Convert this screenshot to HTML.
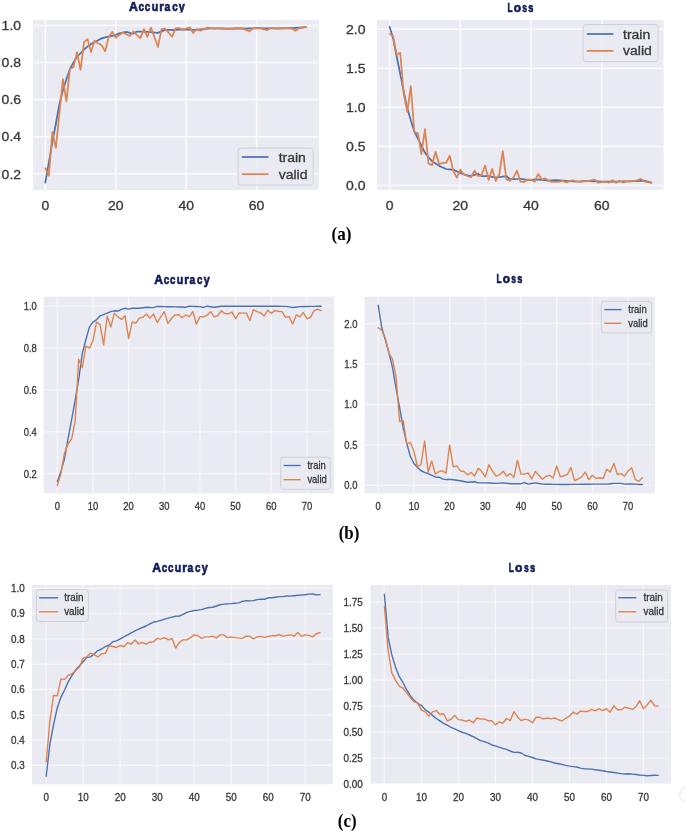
<!DOCTYPE html>
<html><head><meta charset="utf-8"><style>
html,body{margin:0;padding:0;background:#fff;}
body{width:685px;height:831px;overflow:hidden;}
svg{display:block;font-family:"Liberation Sans", sans-serif;will-change:transform;}
.t{stroke:#383838;stroke-width:0.3px;}
</style></head><body>
<svg width="685" height="831" viewBox="0 0 685 831">
<rect width="685" height="831" fill="#fff"/>
<clipPath id="cA"><rect x="33" y="20" width="286" height="170"/></clipPath>
<rect x="33" y="20" width="286.00" height="170.00" fill="#eaeaf2"/>
<path clip-path="url(#cA)" d="M33 173.80H319 M33 136.70H319 M33 99.60H319 M33 62.50H319 M33 25.40H319 M45.30 20V190 M115.74 20V190 M186.18 20V190 M256.62 20V190" stroke="#fafafc" stroke-width="1.55" fill="none"/>
<polyline clip-path="url(#cA)" points="45.30,182.70 48.82,162.67 52.34,142.26 55.87,123.72 59.39,104.24 62.91,90.33 66.43,79.20 69.95,68.99 73.48,62.50 77.00,56.94 80.52,53.23 84.04,49.52 87.56,46.55 91.09,43.95 94.61,42.09 98.13,40.24 101.65,38.38 105.17,37.46 108.70,36.53 112.22,35.79 115.74,35.05 119.26,33.38 122.78,32.63 126.31,31.89 129.83,32.82 133.35,33.75 136.87,31.52 140.39,31.65 143.92,31.77 147.44,31.89 150.96,32.20 154.48,32.51 158.00,32.82 161.53,31.34 165.05,29.85 168.57,29.94 172.09,30.04 175.61,29.85 179.14,29.67 182.66,29.48 186.18,29.57 189.70,29.67 193.22,29.76 196.75,29.85 200.27,29.48 203.79,29.11 207.31,28.74 210.83,28.37 214.36,28.43 217.88,28.49 221.40,28.55 224.92,28.59 228.44,28.63 231.97,28.66 235.49,28.70 239.01,28.74 242.53,28.63 246.05,28.52 249.58,28.41 253.10,28.29 256.62,28.18 260.14,28.22 263.66,28.26 267.19,28.29 270.71,28.33 274.23,28.37 277.75,28.33 281.27,28.29 284.80,28.26 288.32,28.22 291.84,28.18 295.36,27.95 298.88,27.72 302.41,27.49 305.93,27.25" fill="none" stroke="#4c72b0" stroke-width="1.75" stroke-linejoin="round" stroke-linecap="round"/>
<polyline clip-path="url(#cA)" points="45.30,168.24 48.82,175.66 52.34,132.06 55.87,147.83 59.39,113.51 62.91,79.20 66.43,101.46 69.95,68.81 73.48,67.14 77.00,52.11 80.52,69.92 84.04,42.09 87.56,39.13 91.09,52.11 94.61,40.61 98.13,43.21 101.65,45.25 105.17,51.37 108.70,37.09 112.22,31.89 115.74,37.83 119.26,35.14 122.78,32.45 126.31,34.21 129.83,35.97 133.35,31.52 136.87,34.86 140.39,38.20 143.92,29.11 147.44,36.72 150.96,27.63 154.48,37.27 158.00,46.92 161.53,29.11 165.05,28.55 168.57,32.63 172.09,36.72 175.61,28.37 179.14,28.00 182.66,30.04 186.18,28.65 189.70,27.25 193.22,33.01 196.75,29.11 200.27,30.59 203.79,29.11 207.31,27.63 210.83,28.18 214.36,28.74 217.88,28.37 221.40,28.00 224.92,28.55 228.44,29.11 231.97,28.55 235.49,28.00 239.01,28.18 242.53,28.37 246.05,29.85 249.58,31.34 253.10,28.18 256.62,28.28 260.14,28.37 263.66,29.20 267.19,30.04 270.71,28.00 274.23,28.28 277.75,28.55 281.27,28.28 284.80,28.00 288.32,28.28 291.84,28.55 295.36,30.78 298.88,28.18 302.41,27.53 305.93,26.88" fill="none" stroke="#dd8452" stroke-width="1.75" stroke-linejoin="round" stroke-linecap="round"/>
<rect x="238.1" y="148.1" width="75.10" height="36.90" rx="3" fill="#eaeaf2" fill-opacity="0.8" stroke="#cdcdd2" stroke-width="0.9"/>
<line x1="241.8" y1="157" x2="268.5" y2="157" stroke="#4c72b0" stroke-width="1.75"/>
<line x1="241.8" y1="174.2" x2="268.5" y2="174.2" stroke="#dd8452" stroke-width="1.75"/>
<text x="278.7" y="161.7" font-size="12.5" textLength="27.23" lengthAdjust="spacingAndGlyphs" class="t" fill="#383838">train</text>
<text x="278.7" y="178.5" font-size="12.5" textLength="28.79" lengthAdjust="spacingAndGlyphs" class="t" fill="#383838">valid</text>
<text x="21.1" y="178.53" font-size="12.5" text-anchor="end" textLength="19.46" lengthAdjust="spacingAndGlyphs" class="t" fill="#383838">0.2</text>
<text x="21.1" y="141.43" font-size="12.5" text-anchor="end" textLength="19.46" lengthAdjust="spacingAndGlyphs" class="t" fill="#383838">0.4</text>
<text x="21.1" y="104.33" font-size="12.5" text-anchor="end" textLength="19.46" lengthAdjust="spacingAndGlyphs" class="t" fill="#383838">0.6</text>
<text x="21.1" y="67.22" font-size="12.5" text-anchor="end" textLength="19.46" lengthAdjust="spacingAndGlyphs" class="t" fill="#383838">0.8</text>
<text x="21.1" y="30.13" font-size="12.5" text-anchor="end" textLength="19.46" lengthAdjust="spacingAndGlyphs" class="t" fill="#383838">1.0</text>
<text x="45.30" y="210" font-size="12.5" text-anchor="middle" textLength="7.79" lengthAdjust="spacingAndGlyphs" class="t" fill="#383838">0</text>
<text x="115.74" y="210" font-size="12.5" text-anchor="middle" textLength="15.57" lengthAdjust="spacingAndGlyphs" class="t" fill="#383838">20</text>
<text x="186.18" y="210" font-size="12.5" text-anchor="middle" textLength="15.57" lengthAdjust="spacingAndGlyphs" class="t" fill="#383838">40</text>
<text x="256.62" y="210" font-size="12.5" text-anchor="middle" textLength="15.57" lengthAdjust="spacingAndGlyphs" class="t" fill="#383838">60</text>
<clipPath id="cAt"><rect x="0" y="0" width="685" height="12.6"/></clipPath>
<g clip-path="url(#cAt)" stroke="#111b5b" stroke-width="0.7" font-size="13.6" font-weight="bold" fill="#111b5b"><text transform="translate(129.06 10.8) scale(0.903 1)">A</text><text transform="translate(138.56 10.8) scale(0.731 1)">c</text><text transform="translate(144.87 10.8) scale(0.723 1)">c</text><text transform="translate(151.79 10.8) scale(0.784 1)">u</text><text transform="translate(159.17 10.8) scale(0.878 1)">r</text><text transform="translate(164.55 10.8) scale(0.757 1)">a</text><text transform="translate(172.17 10.8) scale(0.723 1)">c</text><text transform="translate(178.87 10.8) scale(0.797 1)">y</text></g>
<clipPath id="cB"><rect x="377" y="20" width="286.5" height="169.8"/></clipPath>
<rect x="377" y="20" width="286.50" height="169.80" fill="#eaeaf2"/>
<path clip-path="url(#cB)" d="M377 185.40H663.5 M377 146.35H663.5 M377 107.30H663.5 M377 68.25H663.5 M377 29.20H663.5 M389.60 20V189.8 M460.34 20V189.8 M531.08 20V189.8 M601.82 20V189.8" stroke="#fafafc" stroke-width="1.55" fill="none"/>
<polyline clip-path="url(#cB)" points="389.60,26.86 393.14,38.57 396.67,56.54 400.21,73.72 403.75,91.68 407.29,108.08 410.82,120.58 414.36,131.51 417.90,138.54 421.43,145.57 424.97,152.60 428.51,157.28 432.04,161.19 435.58,163.53 439.12,165.88 442.66,167.44 446.19,169.00 449.73,169.39 453.27,169.78 456.80,171.34 460.34,172.90 463.88,174.47 467.41,175.25 470.95,176.03 474.49,174.86 478.03,173.69 481.56,176.03 485.10,176.03 488.64,176.03 492.17,176.81 495.71,177.59 499.25,177.07 502.78,176.55 506.32,176.03 509.86,179.15 513.39,179.07 516.93,179.00 520.47,178.92 524.01,179.43 527.54,179.93 531.08,179.80 534.62,179.67 538.15,179.54 541.69,179.87 545.23,180.19 548.76,180.52 552.30,180.26 555.84,180.01 559.38,180.30 562.91,180.58 566.45,180.87 569.99,181.08 573.52,181.29 577.06,181.50 580.60,181.36 584.13,181.23 587.67,181.10 591.21,181.20 594.75,181.30 598.28,181.40 601.82,181.50 605.36,181.50 608.89,181.50 612.43,181.50 615.97,181.50 619.50,181.50 623.04,181.42 626.58,181.34 630.12,181.26 633.65,181.18 637.19,181.10 640.73,180.91 644.26,180.71 647.80,181.69 651.34,182.67" fill="none" stroke="#4c72b0" stroke-width="1.75" stroke-linejoin="round" stroke-linecap="round"/>
<polyline clip-path="url(#cB)" points="389.60,33.89 393.14,36.23 396.67,54.97 400.21,52.63 403.75,94.02 407.29,111.99 410.82,86.21 414.36,132.29 417.90,133.07 421.43,154.16 424.97,129.17 428.51,163.53 432.04,165.09 435.58,151.82 439.12,164.31 442.66,162.75 446.19,162.75 449.73,155.72 453.27,170.56 456.80,177.59 460.34,169.78 463.88,174.47 467.41,176.03 470.95,177.28 474.49,170.56 478.03,176.03 481.56,175.25 485.10,165.41 488.64,179.93 492.17,169.00 495.71,180.87 499.25,174.47 502.78,151.04 506.32,178.92 509.86,180.87 513.39,177.59 516.93,170.56 520.47,181.65 524.01,182.12 527.54,179.54 531.08,179.54 534.62,181.81 538.15,174.00 541.69,179.54 545.23,178.37 548.76,180.87 552.30,181.96 555.84,181.96 559.38,181.65 562.91,180.87 566.45,182.47 569.99,180.87 573.52,180.48 577.06,181.50 580.60,181.89 584.13,181.34 587.67,181.03 591.21,180.28 594.75,179.54 598.28,182.74 601.82,182.24 605.36,181.73 608.89,182.74 612.43,180.32 615.97,182.74 619.50,180.71 623.04,182.51 626.58,181.34 630.12,181.18 633.65,181.03 637.19,180.32 640.73,178.84 644.26,181.34 647.80,182.20 651.34,182.74" fill="none" stroke="#dd8452" stroke-width="1.75" stroke-linejoin="round" stroke-linecap="round"/>
<rect x="583.1" y="24.5" width="74.90" height="37.10" rx="3" fill="#eaeaf2" fill-opacity="0.8" stroke="#cdcdd2" stroke-width="0.9"/>
<line x1="586.8" y1="34" x2="613.4" y2="34" stroke="#4c72b0" stroke-width="1.75"/>
<line x1="586.8" y1="50.9" x2="613.4" y2="50.9" stroke="#dd8452" stroke-width="1.75"/>
<text x="623" y="38.7" font-size="12.5" textLength="27.23" lengthAdjust="spacingAndGlyphs" class="t" fill="#383838">train</text>
<text x="623" y="55.1" font-size="12.5" textLength="28.79" lengthAdjust="spacingAndGlyphs" class="t" fill="#383838">valid</text>
<text x="365.5" y="190.13" font-size="12.5" text-anchor="end" textLength="19.46" lengthAdjust="spacingAndGlyphs" class="t" fill="#383838">0.0</text>
<text x="365.5" y="151.08" font-size="12.5" text-anchor="end" textLength="19.46" lengthAdjust="spacingAndGlyphs" class="t" fill="#383838">0.5</text>
<text x="365.5" y="112.03" font-size="12.5" text-anchor="end" textLength="19.46" lengthAdjust="spacingAndGlyphs" class="t" fill="#383838">1.0</text>
<text x="365.5" y="72.98" font-size="12.5" text-anchor="end" textLength="19.46" lengthAdjust="spacingAndGlyphs" class="t" fill="#383838">1.5</text>
<text x="365.5" y="33.93" font-size="12.5" text-anchor="end" textLength="19.46" lengthAdjust="spacingAndGlyphs" class="t" fill="#383838">2.0</text>
<text x="389.60" y="210" font-size="12.5" text-anchor="middle" textLength="7.79" lengthAdjust="spacingAndGlyphs" class="t" fill="#383838">0</text>
<text x="460.34" y="210" font-size="12.5" text-anchor="middle" textLength="15.57" lengthAdjust="spacingAndGlyphs" class="t" fill="#383838">20</text>
<text x="531.08" y="210" font-size="12.5" text-anchor="middle" textLength="15.57" lengthAdjust="spacingAndGlyphs" class="t" fill="#383838">40</text>
<text x="601.82" y="210" font-size="12.5" text-anchor="middle" textLength="15.57" lengthAdjust="spacingAndGlyphs" class="t" fill="#383838">60</text>
<g stroke="#111b5b" stroke-width="0.7" font-size="13.6" font-weight="bold" fill="#111b5b"><text transform="translate(507.40 11.6) scale(0.608 1)">L</text><text transform="translate(513.65 11.6) scale(0.880 1)">o</text><text transform="translate(522.33 11.6) scale(0.620 1)">s</text><text transform="translate(528.27 11.6) scale(0.682 1)">s</text></g>
<clipPath id="cC"><rect x="43.7" y="296.7" width="290.3" height="196.60000000000002"/></clipPath>
<rect x="43.7" y="296.7" width="290.30" height="196.60" fill="#eaeaf2"/>
<path clip-path="url(#cC)" d="M43.7 473.72H334 M43.7 431.84H334 M43.7 389.96H334 M43.7 348.08H334 M43.7 306.20H334 M57.30 296.7V493.3 M92.96 296.7V493.3 M128.62 296.7V493.3 M164.28 296.7V493.3 M199.94 296.7V493.3 M235.60 296.7V493.3 M271.26 296.7V493.3 M306.92 296.7V493.3" stroke="#f6f6f9" stroke-width="1.3" fill="none"/>
<polyline clip-path="url(#cC)" points="57.30,481.68 60.87,471.63 64.43,459.06 68.00,439.17 71.56,420.11 75.13,400.43 78.70,379.49 82.26,353.32 85.83,339.70 89.39,327.14 92.96,322.11 96.53,319.81 100.09,315.83 103.66,314.58 107.22,313.11 110.79,311.64 114.36,310.81 117.92,311.02 121.49,309.34 125.05,308.29 128.62,309.13 132.19,308.29 135.75,308.29 139.32,308.29 142.88,307.77 146.45,307.25 150.02,307.46 153.58,307.67 157.15,306.41 160.71,306.50 164.28,306.59 167.85,306.68 171.41,306.77 174.98,306.86 178.54,306.95 182.11,307.04 185.68,307.25 189.24,306.20 192.81,306.34 196.37,306.48 199.94,306.62 203.51,307.46 207.07,306.20 210.64,306.72 214.20,307.25 217.77,306.72 221.34,306.20 224.90,306.20 228.47,306.20 232.03,306.20 235.60,306.20 239.17,306.20 242.73,306.20 246.30,306.20 249.86,306.20 253.43,306.20 257.00,306.20 260.56,306.20 264.13,306.20 267.69,306.20 271.26,306.20 274.83,306.25 278.39,306.30 281.96,306.36 285.52,306.41 289.09,306.93 292.66,307.46 296.22,307.04 299.79,306.62 303.35,306.55 306.92,306.48 310.49,306.41 314.05,306.34 317.62,306.27 321.18,306.20" fill="none" stroke="#4c72b0" stroke-width="1.4" stroke-linejoin="round" stroke-linecap="round"/>
<polyline clip-path="url(#cC)" points="57.30,485.66 60.87,473.72 64.43,453.41 68.00,443.99 71.56,439.17 75.13,421.37 78.70,359.18 82.26,367.55 85.83,345.99 89.39,348.08 92.96,340.75 96.53,322.11 100.09,324.63 103.66,344.94 107.22,316.25 110.79,327.14 114.36,313.11 117.92,316.88 121.49,319.39 125.05,315.83 128.62,338.45 132.19,321.90 135.75,323.37 139.32,318.14 142.88,317.30 146.45,313.95 150.02,318.14 153.58,313.95 157.15,322.53 160.71,317.09 164.28,311.64 167.85,323.37 171.41,318.55 174.98,314.99 178.54,314.58 182.11,317.72 185.68,314.99 189.24,316.88 192.81,311.64 196.37,324.00 199.94,316.67 203.51,316.88 207.07,315.20 210.64,311.64 214.20,316.88 217.77,315.62 221.34,310.81 224.90,313.32 228.47,313.95 232.03,312.06 235.60,318.76 239.17,312.90 242.73,313.11 246.30,313.11 249.86,320.44 253.43,309.76 257.00,311.64 260.56,312.90 264.13,316.04 267.69,310.18 271.26,313.32 274.83,310.60 278.39,311.23 281.96,311.64 285.52,317.30 289.09,316.67 292.66,324.00 296.22,314.99 299.79,316.88 303.35,312.48 306.92,318.76 310.49,317.30 314.05,310.60 317.62,309.13 321.18,310.60" fill="none" stroke="#dd8452" stroke-width="1.4" stroke-linejoin="round" stroke-linecap="round"/>
<rect x="280.7" y="457.2" width="49.60" height="32.10" rx="3" fill="#eaeaf2" fill-opacity="0.8" stroke="#cdcdd2" stroke-width="0.9"/>
<line x1="283.6" y1="465.5" x2="300.7" y2="465.5" stroke="#4c72b0" stroke-width="1.4"/>
<line x1="283.6" y1="479.7" x2="300.7" y2="479.7" stroke="#dd8452" stroke-width="1.4"/>
<text x="307.4" y="468.9" font-size="10.5" textLength="18.38" lengthAdjust="spacingAndGlyphs" class="t" fill="#383838">train</text>
<text x="307.4" y="483.1" font-size="10.5" textLength="19.44" lengthAdjust="spacingAndGlyphs" class="t" fill="#383838">valid</text>
<text x="36.8" y="477.54" font-size="10.5" text-anchor="end" textLength="13.14" lengthAdjust="spacingAndGlyphs" class="t" fill="#383838">0.2</text>
<text x="36.8" y="435.66" font-size="10.5" text-anchor="end" textLength="13.14" lengthAdjust="spacingAndGlyphs" class="t" fill="#383838">0.4</text>
<text x="36.8" y="393.78" font-size="10.5" text-anchor="end" textLength="13.14" lengthAdjust="spacingAndGlyphs" class="t" fill="#383838">0.6</text>
<text x="36.8" y="351.90" font-size="10.5" text-anchor="end" textLength="13.14" lengthAdjust="spacingAndGlyphs" class="t" fill="#383838">0.8</text>
<text x="36.8" y="310.02" font-size="10.5" text-anchor="end" textLength="13.14" lengthAdjust="spacingAndGlyphs" class="t" fill="#383838">1.0</text>
<text x="57.30" y="510" font-size="10.5" text-anchor="middle" textLength="5.26" lengthAdjust="spacingAndGlyphs" class="t" fill="#383838">0</text>
<text x="92.96" y="510" font-size="10.5" text-anchor="middle" textLength="10.51" lengthAdjust="spacingAndGlyphs" class="t" fill="#383838">10</text>
<text x="128.62" y="510" font-size="10.5" text-anchor="middle" textLength="10.51" lengthAdjust="spacingAndGlyphs" class="t" fill="#383838">20</text>
<text x="164.28" y="510" font-size="10.5" text-anchor="middle" textLength="10.51" lengthAdjust="spacingAndGlyphs" class="t" fill="#383838">30</text>
<text x="199.94" y="510" font-size="10.5" text-anchor="middle" textLength="10.51" lengthAdjust="spacingAndGlyphs" class="t" fill="#383838">40</text>
<text x="235.60" y="510" font-size="10.5" text-anchor="middle" textLength="10.51" lengthAdjust="spacingAndGlyphs" class="t" fill="#383838">50</text>
<text x="271.26" y="510" font-size="10.5" text-anchor="middle" textLength="10.51" lengthAdjust="spacingAndGlyphs" class="t" fill="#383838">60</text>
<text x="306.92" y="510" font-size="10.5" text-anchor="middle" textLength="10.51" lengthAdjust="spacingAndGlyphs" class="t" fill="#383838">70</text>
<g stroke="#111b5b" stroke-width="0.7" font-size="13.6" font-weight="bold" fill="#111b5b"><text transform="translate(154.26 283.8) scale(0.896 1)">A</text><text transform="translate(163.70 283.8) scale(0.725 1)">c</text><text transform="translate(169.96 283.8) scale(0.717 1)">c</text><text transform="translate(176.83 283.8) scale(0.778 1)">u</text><text transform="translate(184.16 283.8) scale(0.870 1)">r</text><text transform="translate(189.50 283.8) scale(0.751 1)">a</text><text transform="translate(197.06 283.8) scale(0.717 1)">c</text><text transform="translate(203.72 283.8) scale(0.791 1)">y</text></g>
<clipPath id="cD"><rect x="364.7" y="296.7" width="290.2" height="196.60000000000002"/></clipPath>
<rect x="364.7" y="296.7" width="290.20" height="196.60" fill="#eaeaf2"/>
<path clip-path="url(#cD)" d="M364.7 485.30H654.9 M364.7 444.90H654.9 M364.7 404.50H654.9 M364.7 364.10H654.9 M364.7 323.70H654.9 M378.20 296.7V493.3 M413.90 296.7V493.3 M449.60 296.7V493.3 M485.30 296.7V493.3 M521.00 296.7V493.3 M556.70 296.7V493.3 M592.40 296.7V493.3 M628.10 296.7V493.3" stroke="#f6f6f9" stroke-width="1.3" fill="none"/>
<polyline clip-path="url(#cD)" points="378.20,305.12 381.77,327.74 385.34,339.86 388.91,352.79 392.48,367.33 396.05,388.34 399.62,407.73 403.19,427.93 406.76,443.28 410.33,456.21 413.90,463.48 417.47,467.52 421.04,470.76 424.61,472.37 428.18,473.66 431.75,475.28 435.32,476.98 438.89,477.22 442.46,478.84 446.03,479.64 449.60,479.32 453.17,479.81 456.74,480.29 460.31,480.78 463.88,481.50 467.45,482.23 471.02,481.99 474.59,481.74 478.16,482.88 481.73,482.88 485.30,482.88 488.87,483.04 492.44,483.20 496.01,483.36 499.58,483.12 503.15,482.88 506.72,483.28 510.29,483.68 513.86,483.68 517.43,483.68 521.00,483.68 524.57,482.55 528.14,484.17 531.71,483.52 535.28,482.88 538.85,483.52 542.42,484.17 545.99,484.22 549.56,484.28 553.13,484.33 556.70,484.38 560.27,484.44 563.84,484.49 567.41,484.45 570.98,484.41 574.55,484.37 578.12,484.33 581.69,484.29 585.26,484.25 588.83,484.21 592.40,484.17 595.97,484.17 599.54,484.17 603.11,484.17 606.68,484.17 610.25,483.76 613.82,483.36 617.39,483.36 620.96,483.36 624.53,484.17 628.10,484.01 631.67,483.85 635.24,484.17 638.81,484.49 642.38,484.49" fill="none" stroke="#4c72b0" stroke-width="1.4" stroke-linejoin="round" stroke-linecap="round"/>
<polyline clip-path="url(#cD)" points="378.20,327.74 381.77,330.16 385.34,338.24 388.91,352.79 392.48,359.25 396.05,377.03 399.62,421.47 403.19,420.66 406.76,444.09 410.33,442.48 413.90,451.36 417.47,466.72 421.04,464.29 424.61,440.86 428.18,472.37 431.75,461.06 435.32,473.99 438.89,471.56 442.46,470.76 446.03,473.18 449.60,444.90 453.17,466.72 456.74,465.91 460.31,470.92 463.88,471.56 467.45,474.80 471.02,472.53 474.59,476.09 478.16,468.33 481.73,471.56 485.30,476.90 488.87,464.78 492.44,470.92 496.01,476.09 499.58,474.80 503.15,471.24 506.72,476.09 510.29,473.66 513.86,477.38 517.43,460.41 521.00,474.15 524.57,474.15 528.14,472.86 531.71,479.00 535.28,471.56 538.85,475.28 542.42,479.32 545.99,476.41 549.56,475.28 553.13,478.03 556.70,466.07 560.27,476.90 563.84,475.77 567.41,474.47 570.98,467.36 574.55,480.61 578.12,479.00 581.69,476.90 585.26,472.05 588.83,479.64 592.40,475.28 595.97,478.51 599.54,477.70 603.11,478.51 606.68,469.30 610.25,472.05 613.82,463.48 617.39,474.47 620.96,473.66 624.53,476.09 628.10,470.92 631.67,467.69 635.24,479.32 638.81,481.26 642.38,477.70" fill="none" stroke="#dd8452" stroke-width="1.4" stroke-linejoin="round" stroke-linecap="round"/>
<rect x="601.4" y="301.3" width="50.10" height="31.70" rx="3" fill="#eaeaf2" fill-opacity="0.8" stroke="#cdcdd2" stroke-width="0.9"/>
<line x1="604.3" y1="309.6" x2="621.5" y2="309.6" stroke="#4c72b0" stroke-width="1.4"/>
<line x1="604.3" y1="323.3" x2="621.5" y2="323.3" stroke="#dd8452" stroke-width="1.4"/>
<text x="628.3" y="312.9" font-size="10.5" textLength="18.38" lengthAdjust="spacingAndGlyphs" class="t" fill="#383838">train</text>
<text x="628.3" y="326.6" font-size="10.5" textLength="19.44" lengthAdjust="spacingAndGlyphs" class="t" fill="#383838">valid</text>
<text x="357.4" y="489.12" font-size="10.5" text-anchor="end" textLength="13.14" lengthAdjust="spacingAndGlyphs" class="t" fill="#383838">0.0</text>
<text x="357.4" y="448.72" font-size="10.5" text-anchor="end" textLength="13.14" lengthAdjust="spacingAndGlyphs" class="t" fill="#383838">0.5</text>
<text x="357.4" y="408.32" font-size="10.5" text-anchor="end" textLength="13.14" lengthAdjust="spacingAndGlyphs" class="t" fill="#383838">1.0</text>
<text x="357.4" y="367.92" font-size="10.5" text-anchor="end" textLength="13.14" lengthAdjust="spacingAndGlyphs" class="t" fill="#383838">1.5</text>
<text x="357.4" y="327.52" font-size="10.5" text-anchor="end" textLength="13.14" lengthAdjust="spacingAndGlyphs" class="t" fill="#383838">2.0</text>
<text x="378.20" y="510" font-size="10.5" text-anchor="middle" textLength="5.26" lengthAdjust="spacingAndGlyphs" class="t" fill="#383838">0</text>
<text x="413.90" y="510" font-size="10.5" text-anchor="middle" textLength="10.51" lengthAdjust="spacingAndGlyphs" class="t" fill="#383838">10</text>
<text x="449.60" y="510" font-size="10.5" text-anchor="middle" textLength="10.51" lengthAdjust="spacingAndGlyphs" class="t" fill="#383838">20</text>
<text x="485.30" y="510" font-size="10.5" text-anchor="middle" textLength="10.51" lengthAdjust="spacingAndGlyphs" class="t" fill="#383838">30</text>
<text x="521.00" y="510" font-size="10.5" text-anchor="middle" textLength="10.51" lengthAdjust="spacingAndGlyphs" class="t" fill="#383838">40</text>
<text x="556.70" y="510" font-size="10.5" text-anchor="middle" textLength="10.51" lengthAdjust="spacingAndGlyphs" class="t" fill="#383838">50</text>
<text x="592.40" y="510" font-size="10.5" text-anchor="middle" textLength="10.51" lengthAdjust="spacingAndGlyphs" class="t" fill="#383838">60</text>
<text x="628.10" y="510" font-size="10.5" text-anchor="middle" textLength="10.51" lengthAdjust="spacingAndGlyphs" class="t" fill="#383838">70</text>
<g stroke="#111b5b" stroke-width="0.7" font-size="13.6" font-weight="bold" fill="#111b5b"><text transform="translate(496.51 283.1) scale(0.605 1)">L</text><text transform="translate(502.73 283.1) scale(0.877 1)">o</text><text transform="translate(511.37 283.1) scale(0.617 1)">s</text><text transform="translate(517.29 283.1) scale(0.679 1)">s</text></g>
<clipPath id="cE"><rect x="31.9" y="585" width="301.1" height="199.29999999999995"/></clipPath>
<rect x="31.9" y="585" width="301.10" height="199.30" fill="#eaeaf2"/>
<path clip-path="url(#cE)" d="M31.9 765.40H333 M31.9 740.10H333 M31.9 714.80H333 M31.9 689.50H333 M31.9 664.20H333 M31.9 638.90H333 M31.9 613.60H333 M31.9 588.30H333 M46.20 585V784.3 M83.20 585V784.3 M120.20 585V784.3 M157.20 585V784.3 M194.20 585V784.3 M231.20 585V784.3 M268.20 585V784.3 M305.20 585V784.3" stroke="#f6f6f9" stroke-width="1.3" fill="none"/>
<polyline clip-path="url(#cE)" points="46.20,776.28 49.90,743.89 53.60,724.67 57.30,707.72 61.00,697.09 64.70,689.75 68.40,681.40 72.10,675.33 75.80,669.77 79.50,665.72 83.20,661.67 86.90,657.37 90.60,656.86 94.30,653.83 98.00,650.54 101.70,649.02 105.40,646.49 109.10,645.22 112.80,641.68 116.50,640.92 120.20,638.90 123.90,636.88 127.60,634.85 131.30,632.83 135.00,630.93 138.70,629.03 142.40,627.51 146.10,626.00 149.80,623.97 153.50,622.03 157.20,621.44 160.90,620.32 164.60,619.19 168.30,618.10 172.00,617.09 175.70,616.29 179.40,616.00 183.10,614.36 186.80,612.31 190.50,611.40 194.20,610.49 197.90,610.18 201.60,609.68 205.30,608.41 209.00,607.47 212.70,607.27 216.40,606.01 220.10,604.74 223.80,604.11 227.50,603.90 231.20,603.65 234.90,603.25 238.60,602.85 242.30,601.43 246.00,600.58 249.70,600.90 253.40,600.60 257.10,599.67 260.80,599.09 264.50,599.25 268.20,597.79 271.90,597.79 275.60,597.21 279.30,596.66 283.00,596.63 286.70,595.94 290.40,596.10 294.10,595.68 297.80,595.26 301.50,595.05 305.20,594.74 308.90,594.08 312.60,593.96 316.30,594.84 320.00,594.62" fill="none" stroke="#4c72b0" stroke-width="1.4" stroke-linejoin="round" stroke-linecap="round"/>
<polyline clip-path="url(#cE)" points="46.20,761.86 49.90,720.87 53.60,695.32 57.30,695.82 61.00,678.87 64.70,679.38 68.40,675.33 72.10,673.56 75.80,670.52 79.50,666.98 83.20,657.88 86.90,656.86 90.60,653.07 94.30,654.84 98.00,656.86 101.70,653.83 105.40,653.32 109.10,645.73 112.80,646.49 116.50,647.50 120.20,645.48 123.90,646.74 127.60,642.69 131.30,644.21 135.00,639.91 138.70,643.96 142.40,642.44 146.10,644.21 149.80,642.06 153.50,641.68 157.20,638.39 160.90,639.15 164.60,637.63 168.30,639.91 172.00,638.39 175.70,648.01 179.40,642.44 183.10,639.91 186.80,639.91 190.50,637.63 194.20,634.85 197.90,635.74 201.60,638.39 205.30,636.88 209.00,636.88 212.70,636.12 216.40,637.89 220.10,634.85 223.80,634.85 227.50,637.63 231.20,636.88 234.90,637.63 238.60,638.14 242.30,638.39 246.00,636.12 249.70,636.37 253.40,638.90 257.10,637.00 260.80,636.37 264.50,637.38 268.20,636.37 271.90,635.74 275.60,635.74 279.30,634.47 283.00,636.37 286.70,635.36 290.40,634.85 294.10,636.12 297.80,632.57 301.50,636.37 305.20,634.85 308.90,635.36 312.60,636.88 316.30,633.71 320.00,632.57" fill="none" stroke="#dd8452" stroke-width="1.4" stroke-linejoin="round" stroke-linecap="round"/>
<rect x="36.4" y="589.6" width="52.00" height="31.90" rx="3" fill="#eaeaf2" fill-opacity="0.8" stroke="#cdcdd2" stroke-width="0.9"/>
<line x1="39.1" y1="597.8" x2="58" y2="597.8" stroke="#4c72b0" stroke-width="1.4"/>
<line x1="39.1" y1="611.8" x2="58" y2="611.8" stroke="#dd8452" stroke-width="1.4"/>
<text x="64.2" y="601.2" font-size="10.5" textLength="19.20" lengthAdjust="spacingAndGlyphs" class="t" fill="#383838">train</text>
<text x="64.2" y="615.4" font-size="10.5" textLength="20.30" lengthAdjust="spacingAndGlyphs" class="t" fill="#383838">valid</text>
<text x="24.8" y="769.22" font-size="10.5" text-anchor="end" textLength="13.72" lengthAdjust="spacingAndGlyphs" class="t" fill="#383838">0.3</text>
<text x="24.8" y="743.92" font-size="10.5" text-anchor="end" textLength="13.72" lengthAdjust="spacingAndGlyphs" class="t" fill="#383838">0.4</text>
<text x="24.8" y="718.62" font-size="10.5" text-anchor="end" textLength="13.72" lengthAdjust="spacingAndGlyphs" class="t" fill="#383838">0.5</text>
<text x="24.8" y="693.32" font-size="10.5" text-anchor="end" textLength="13.72" lengthAdjust="spacingAndGlyphs" class="t" fill="#383838">0.6</text>
<text x="24.8" y="668.02" font-size="10.5" text-anchor="end" textLength="13.72" lengthAdjust="spacingAndGlyphs" class="t" fill="#383838">0.7</text>
<text x="24.8" y="642.72" font-size="10.5" text-anchor="end" textLength="13.72" lengthAdjust="spacingAndGlyphs" class="t" fill="#383838">0.8</text>
<text x="24.8" y="617.42" font-size="10.5" text-anchor="end" textLength="13.72" lengthAdjust="spacingAndGlyphs" class="t" fill="#383838">0.9</text>
<text x="24.8" y="592.12" font-size="10.5" text-anchor="end" textLength="13.72" lengthAdjust="spacingAndGlyphs" class="t" fill="#383838">1.0</text>
<text x="46.20" y="801.2" font-size="10.5" text-anchor="middle" textLength="5.49" lengthAdjust="spacingAndGlyphs" class="t" fill="#383838">0</text>
<text x="83.20" y="801.2" font-size="10.5" text-anchor="middle" textLength="10.98" lengthAdjust="spacingAndGlyphs" class="t" fill="#383838">10</text>
<text x="120.20" y="801.2" font-size="10.5" text-anchor="middle" textLength="10.98" lengthAdjust="spacingAndGlyphs" class="t" fill="#383838">20</text>
<text x="157.20" y="801.2" font-size="10.5" text-anchor="middle" textLength="10.98" lengthAdjust="spacingAndGlyphs" class="t" fill="#383838">30</text>
<text x="194.20" y="801.2" font-size="10.5" text-anchor="middle" textLength="10.98" lengthAdjust="spacingAndGlyphs" class="t" fill="#383838">40</text>
<text x="231.20" y="801.2" font-size="10.5" text-anchor="middle" textLength="10.98" lengthAdjust="spacingAndGlyphs" class="t" fill="#383838">50</text>
<text x="268.20" y="801.2" font-size="10.5" text-anchor="middle" textLength="10.98" lengthAdjust="spacingAndGlyphs" class="t" fill="#383838">60</text>
<text x="305.20" y="801.2" font-size="10.5" text-anchor="middle" textLength="10.98" lengthAdjust="spacingAndGlyphs" class="t" fill="#383838">70</text>
<g stroke="#111b5b" stroke-width="0.7" font-size="13.6" font-weight="bold" fill="#111b5b"><text transform="translate(152.16 571.8) scale(0.899 1)">A</text><text transform="translate(161.63 571.8) scale(0.728 1)">c</text><text transform="translate(167.91 571.8) scale(0.720 1)">c</text><text transform="translate(174.81 571.8) scale(0.781 1)">u</text><text transform="translate(182.17 571.8) scale(0.874 1)">r</text><text transform="translate(187.53 571.8) scale(0.754 1)">a</text><text transform="translate(195.11 571.8) scale(0.720 1)">c</text><text transform="translate(201.80 571.8) scale(0.794 1)">y</text></g>
<clipPath id="cF"><rect x="370.5" y="585" width="300.5" height="198.5"/></clipPath>
<rect x="370.5" y="585" width="300.50" height="198.50" fill="#eaeaf2"/>
<path clip-path="url(#cF)" d="M370.5 784.20H671 M370.5 758.18H671 M370.5 732.15H671 M370.5 706.12H671 M370.5 680.10H671 M370.5 654.08H671 M370.5 628.05H671 M370.5 602.03H671 M384.40 585V783.5 M421.40 585V783.5 M458.40 585V783.5 M495.40 585V783.5 M532.40 585V783.5 M569.40 585V783.5 M606.40 585V783.5 M643.40 585V783.5" stroke="#f6f6f9" stroke-width="1.3" fill="none"/>
<polyline clip-path="url(#cF)" points="384.40,594.32 388.10,636.90 391.80,654.91 395.50,666.88 399.20,676.46 402.90,682.49 406.60,689.68 410.30,695.72 414.00,700.09 417.70,703.42 421.40,705.29 425.10,709.66 428.80,712.06 432.50,715.39 436.20,718.51 439.90,720.91 443.60,723.30 447.30,725.07 451.00,727.47 454.70,728.92 458.40,730.59 462.10,732.25 465.80,733.40 469.50,735.01 473.20,736.63 476.90,738.66 480.60,740.69 484.30,741.67 488.00,742.95 491.70,744.95 495.40,745.84 499.10,747.07 502.80,748.39 506.50,749.43 510.20,751.01 513.90,752.42 517.60,752.25 521.30,753.02 525.00,755.54 528.70,756.41 532.40,757.50 536.10,758.87 539.80,759.61 543.50,760.31 547.20,760.97 550.90,761.88 554.60,763.04 558.30,763.72 562.00,764.40 565.70,765.36 569.40,766.12 573.10,766.62 576.80,767.02 580.50,768.06 584.20,768.90 587.90,768.90 591.60,769.09 595.30,769.74 599.00,770.22 602.70,770.76 606.40,771.53 610.10,772.04 613.80,772.55 617.50,773.11 621.20,773.63 624.90,774.06 628.60,773.69 632.30,774.11 636.00,774.56 639.70,775.05 643.40,775.42 647.10,775.71 650.80,775.55 654.50,775.27 658.20,775.35" fill="none" stroke="#4c72b0" stroke-width="1.4" stroke-linejoin="round" stroke-linecap="round"/>
<polyline clip-path="url(#cF)" points="384.40,606.40 388.10,650.12 391.80,672.92 395.50,680.10 399.20,686.14 402.90,688.01 406.60,692.80 410.30,697.69 414.00,701.75 417.70,702.90 421.40,710.18 425.10,711.85 428.80,716.12 432.50,711.85 436.20,710.60 439.90,714.45 443.60,713.72 447.30,720.91 451.00,719.24 454.70,715.39 458.40,719.66 462.10,720.07 465.80,721.22 469.50,720.07 473.20,722.78 476.90,717.99 480.60,719.14 484.30,718.83 488.00,720.70 491.70,720.70 495.40,724.86 499.10,721.95 502.80,723.30 506.50,718.51 510.20,720.70 513.90,711.64 517.60,716.95 521.30,720.70 525.00,719.14 528.70,720.07 532.40,722.78 536.10,717.26 539.80,717.26 543.50,719.14 547.20,717.99 550.90,718.83 554.60,717.99 558.30,719.66 562.00,721.01 565.70,718.30 569.40,716.22 573.10,712.16 576.80,714.14 580.50,711.12 584.20,711.43 587.90,711.43 591.60,709.35 595.30,710.91 599.00,708.73 602.70,710.60 606.40,708.73 610.10,712.16 613.80,705.81 617.50,709.77 621.20,709.77 624.90,707.06 628.60,708.21 632.30,709.46 636.00,706.65 639.70,700.71 643.40,708.73 647.10,704.98 650.80,700.19 654.50,705.81 658.20,706.12" fill="none" stroke="#dd8452" stroke-width="1.4" stroke-linejoin="round" stroke-linecap="round"/>
<rect x="615.6" y="589.9" width="51.90" height="32.10" rx="3" fill="#eaeaf2" fill-opacity="0.8" stroke="#cdcdd2" stroke-width="0.9"/>
<line x1="618.3" y1="597.7" x2="636.3" y2="597.7" stroke="#4c72b0" stroke-width="1.4"/>
<line x1="618.3" y1="611.8" x2="636.3" y2="611.8" stroke="#dd8452" stroke-width="1.4"/>
<text x="643.6" y="601.1" font-size="10.5" textLength="19.20" lengthAdjust="spacingAndGlyphs" class="t" fill="#383838">train</text>
<text x="643.6" y="615.3" font-size="10.5" textLength="20.30" lengthAdjust="spacingAndGlyphs" class="t" fill="#383838">valid</text>
<text x="362.8" y="788.02" font-size="10.5" text-anchor="end" textLength="19.21" lengthAdjust="spacingAndGlyphs" class="t" fill="#383838">0.00</text>
<text x="362.8" y="761.99" font-size="10.5" text-anchor="end" textLength="19.21" lengthAdjust="spacingAndGlyphs" class="t" fill="#383838">0.25</text>
<text x="362.8" y="735.97" font-size="10.5" text-anchor="end" textLength="19.21" lengthAdjust="spacingAndGlyphs" class="t" fill="#383838">0.50</text>
<text x="362.8" y="709.94" font-size="10.5" text-anchor="end" textLength="19.21" lengthAdjust="spacingAndGlyphs" class="t" fill="#383838">0.75</text>
<text x="362.8" y="683.92" font-size="10.5" text-anchor="end" textLength="19.21" lengthAdjust="spacingAndGlyphs" class="t" fill="#383838">1.00</text>
<text x="362.8" y="657.89" font-size="10.5" text-anchor="end" textLength="19.21" lengthAdjust="spacingAndGlyphs" class="t" fill="#383838">1.25</text>
<text x="362.8" y="631.87" font-size="10.5" text-anchor="end" textLength="19.21" lengthAdjust="spacingAndGlyphs" class="t" fill="#383838">1.50</text>
<text x="362.8" y="605.84" font-size="10.5" text-anchor="end" textLength="19.21" lengthAdjust="spacingAndGlyphs" class="t" fill="#383838">1.75</text>
<text x="384.40" y="801.2" font-size="10.5" text-anchor="middle" textLength="5.49" lengthAdjust="spacingAndGlyphs" class="t" fill="#383838">0</text>
<text x="421.40" y="801.2" font-size="10.5" text-anchor="middle" textLength="10.98" lengthAdjust="spacingAndGlyphs" class="t" fill="#383838">10</text>
<text x="458.40" y="801.2" font-size="10.5" text-anchor="middle" textLength="10.98" lengthAdjust="spacingAndGlyphs" class="t" fill="#383838">20</text>
<text x="495.40" y="801.2" font-size="10.5" text-anchor="middle" textLength="10.98" lengthAdjust="spacingAndGlyphs" class="t" fill="#383838">30</text>
<text x="532.40" y="801.2" font-size="10.5" text-anchor="middle" textLength="10.98" lengthAdjust="spacingAndGlyphs" class="t" fill="#383838">40</text>
<text x="569.40" y="801.2" font-size="10.5" text-anchor="middle" textLength="10.98" lengthAdjust="spacingAndGlyphs" class="t" fill="#383838">50</text>
<text x="606.40" y="801.2" font-size="10.5" text-anchor="middle" textLength="10.98" lengthAdjust="spacingAndGlyphs" class="t" fill="#383838">60</text>
<text x="643.40" y="801.2" font-size="10.5" text-anchor="middle" textLength="10.98" lengthAdjust="spacingAndGlyphs" class="t" fill="#383838">70</text>
<g stroke="#111b5b" stroke-width="0.7" font-size="13.6" font-weight="bold" fill="#111b5b"><text transform="translate(508.80 571.9) scale(0.616 1)">L</text><text transform="translate(515.12 571.9) scale(0.892 1)">o</text><text transform="translate(523.89 571.9) scale(0.628 1)">s</text><text transform="translate(529.90 571.9) scale(0.691 1)">s</text></g>
<text x="331.5" y="239.9" font-family='"Liberation Serif", serif' font-size="17.8" font-weight="bold" textLength="19.9" lengthAdjust="spacingAndGlyphs" fill="#000">(a)</text>
<text x="338.7" y="538.9" font-family='"Liberation Serif", serif' font-size="17.8" font-weight="bold" textLength="20.7" lengthAdjust="spacingAndGlyphs" fill="#000">(b)</text>
<text x="337.8" y="827.0" font-family='"Liberation Serif", serif' font-size="17.8" font-weight="bold" textLength="18.8" lengthAdjust="spacingAndGlyphs" fill="#000">(c)</text>
<path d="M687 787.3 A7.3 7.3 0 0 0 687 801.9" fill="none" stroke="#dedede" stroke-width="0.9"/>
</svg>
</body></html>
